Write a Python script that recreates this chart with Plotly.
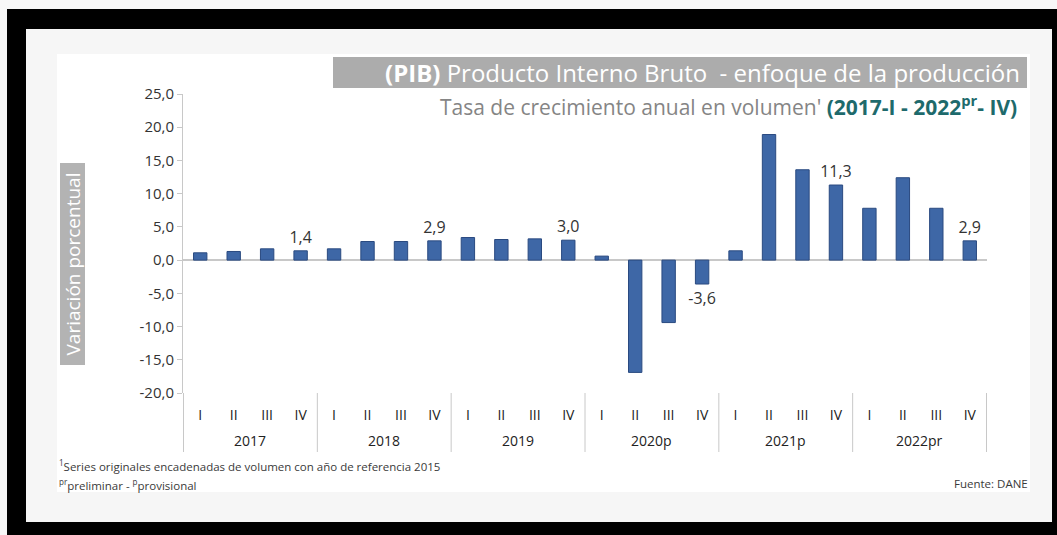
import plotly.graph_objects as go

# Quarterly GDP growth (annual rate, chained volume series)
year_names = ["2017", "2018", "2019", "2020p", "2021p", "2022pr"]
quarter_names = ["I", "II", "III", "IV"]
periods = [f"{y} {q}" for y in year_names for q in quarter_names]
quarters = quarter_names * len(year_names)
growth = [1.1, 1.3, 1.7, 1.4,
          1.7, 2.8, 2.8, 2.9,
          3.4, 3.1, 3.2, 3.0,
          0.6, -16.9, -9.4, -3.6,
          1.4, 18.9, 13.6, 11.3,
          7.8, 12.4, 7.8, 2.9]
# quarters whose value is printed on the bar (year-end quarters)
labelled = [3, 7, 11, 15, 19, 23]

y_ticks = [25, 20, 15, 10, 5, 0, -5, -10, -15, -20]
y_tick_text = ["25,0", "20,0", "15,0", "10,0", "5,0", "0,0", "-5,0", "-10,0", "-15,0", "-20,0"]

W, H = 1057, 535
L, R, T, B = 183, 987, 94, 393  # plot area in pixels


def px(x):
    return (x - L) / (R - L)


def py(y):
    return (B - y) / (B - T)


bar_text = [f"{v:.1f}".replace(".", ",") if i in labelled else "" for i, v in enumerate(growth)]

fig = go.Figure(go.Bar(
    x=periods,
    y=growth,
    text=bar_text,
    textposition="outside",
    constraintext="none",
    textfont=dict(size=16, color="#333333", family="Open Sans"),
    cliponaxis=False,
    marker=dict(color="#3e67a6", line=dict(color="#2a4a80", width=1)),
))

shapes = [
    # outer light strips and black frame
    dict(type="rect", x0=px(0), x1=px(W), y0=py(0), y1=py(H), fillcolor="#000000", line_width=0),
    dict(type="rect", x0=px(0), x1=px(W), y0=py(0), y1=py(9), fillcolor="#f7f7f7", line_width=0),
    dict(type="rect", x0=px(0), x1=px(7), y0=py(0), y1=py(H), fillcolor="#f7f7f7", line_width=0),
    # card and inner white panel
    dict(type="rect", x0=px(26), x1=px(1052), y0=py(29), y1=py(522), fillcolor="#f6f6f6", line_width=0),
    dict(type="rect", x0=px(57), x1=px(1030), y0=py(54), y1=py(492), fillcolor="#ffffff", line_width=0),
    # title banner
    dict(type="rect", x0=px(333), x1=px(1027), y0=py(57), y1=py(88), fillcolor="#acacac", line_width=0),
    # y-axis title box
    dict(type="rect", x0=px(60), x1=px(85), y0=py(163), y1=py(365), fillcolor="#b3b3b3", line_width=0),
]
for s in shapes:
    s.update(xref="paper", yref="paper", layer="below")

# year group dividers below the category axis
for k in range(len(year_names) + 1):
    shapes.append(dict(type="line", xref="x", yref="paper",
                       x0=4 * k - 0.5, x1=4 * k - 0.5, y0=py(393), y1=py(452),
                       line=dict(color="#c8c8c8", width=1)))

annotations = [
    dict(x=px(1022), y=py(72.5), xanchor="right", yanchor="middle",
         text="<b>(PIB)</b> Producto Interno Bruto  - enfoque de la producción",
         font=dict(size=24, color="#ffffff", family="Open Sans")),
    dict(x=px(1019), y=py(105), xanchor="right", yanchor="middle",
         text="Tasa de crecimiento anual en volumen' "
              "<span style='color:#1e6a6c'><b>(2017-I - 2022<sup>pr</sup>- IV)</b></span>",
         font=dict(size=21, color="#858585", family="Open Sans")),
    dict(x=px(72.5), y=py(264), xanchor="center", yanchor="middle", textangle=-90,
         text="Variación porcentual",
         font=dict(size=19, color="#ffffff", family="Open Sans")),
    dict(x=px(57), y=py(465), xanchor="left", yanchor="middle",
         text="<sup>1</sup>Series originales encadenadas de volumen con año de referencia 2015",
         font=dict(size=11.5, color="#3a3a3a", family="Open Sans")),
    dict(x=px(57), y=py(484), xanchor="left", yanchor="middle",
         text="<sup>pr</sup>preliminar - <sup>p</sup>provisional",
         font=dict(size=11.5, color="#3a3a3a", family="Open Sans")),
    dict(x=px(1030), y=py(483), xanchor="right", yanchor="middle",
         text="Fuente: DANE",
         font=dict(size=11.5, color="#3a3a3a", family="Open Sans")),
]
for a in annotations:
    a.update(xref="paper", yref="paper", showarrow=False)

# year labels centred under each group of quarters
for k, name in enumerate(year_names):
    annotations.append(dict(x=4 * k + 1.5, xref="x", y=py(440), yref="paper",
                            xanchor="center", yanchor="middle", showarrow=False,
                            text=name, font=dict(size=14, color="#222222", family="Open Sans")))

fig.update_layout(
    width=W, height=H,
    margin=dict(l=L, r=W - R, t=T, b=H - B, pad=0),
    paper_bgcolor="#000000",
    plot_bgcolor="rgba(0,0,0,0)",
    font=dict(family="Open Sans", color="#333333"),
    showlegend=False,
    bargap=0.6,
    shapes=shapes,
    annotations=annotations,
    xaxis=dict(
        type="category",
        tickvals=periods, ticktext=quarters,
        showgrid=False, showline=False,
        ticks="outside", ticklen=9, tickcolor="rgba(0,0,0,0)",
        tickfont=dict(size=14, color="#222222"),
    ),
    yaxis=dict(
        range=[-20, 25],
        tickvals=y_ticks, ticktext=y_tick_text,
        showgrid=False,
        showline=True, linecolor="#c8c8c8", linewidth=1,
        ticks="outside", ticklen=5, tickcolor="#c8c8c8",
        tickfont=dict(size=15, color="#333333"),
        zeroline=True, zerolinecolor="#c8c8c8", zerolinewidth=1.5,
    ),
)

fig.write_html("out.html")
